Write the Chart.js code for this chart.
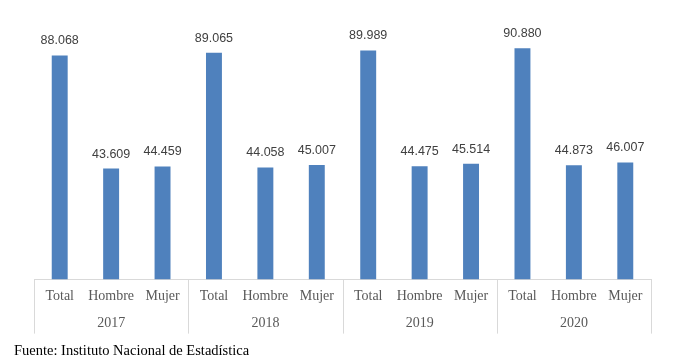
<!DOCTYPE html>
<html>
<head>
<meta charset="utf-8">
<script src="https://cdn.jsdelivr.net/npm/chart.js@4"></script>
<style>
  html, body { margin: 0; padding: 0; background: #fff; }
  #wrap { width: 675px; height: 360px; }
</style>
</head>
<body>
<div id="wrap"><canvas id="c" width="675" height="360"></canvas></div>
<script>
// ---- data ----
const years = ['2017', '2018', '2019', '2020'];
const groups = ['Total', 'Hombre', 'Mujer'];
const totalValues = [88068, 89065, 89989, 90880];
const hombreValues = [43609, 44058, 44475, 44873];
const mujerValues = [44459, 45007, 45514, 46007];
const sourceText = 'Fuente: Instituto Nacional de Estadística';

// build categories: each group label, year shown under the middle one
const labels = [];
const values = [];
years.forEach((y, i) => {
  const vals = [totalValues[i], hombreValues[i], mujerValues[i]];
  groups.forEach((g, j) => {
    labels.push([g, j === 1 ? y : '']);
    values.push(vals[j]);
  });
});

function fmt(v) {
  return String(v).replace(/\B(?=(\d{3})+(?!\d))/g, '.');
}

const valueLabels = {
  id: 'valueLabels',
  afterDatasetsDraw(chart) {
    const ctx = chart.ctx;
    const meta = chart.getDatasetMeta(0);
    ctx.save();
    ctx.font = '12.5px "Liberation Sans", Arial, sans-serif';
    ctx.fillStyle = '#404040';
    ctx.textAlign = 'center';
    ctx.textBaseline = 'alphabetic';
    meta.data.forEach((bar, i) => {
      ctx.fillText(fmt(chart.data.datasets[0].data[i]), bar.x, bar.y - 11);
    });
    ctx.restore();
  }
};

// group dividers on the category axis, at the boundaries between year groups
const groupDividers = {
  id: 'groupDividers',
  afterDraw(chart) {
    const xs = chart.scales.x;
    const ctx = chart.ctx;
    const n = chart.data.labels.length;
    const per = groups.length;
    const top = xs.top;
    const bottom = xs.top + 54;
    ctx.save();
    ctx.strokeStyle = '#d9d9d9';
    ctx.lineWidth = 1;
    for (let i = 0; i <= n; i += per) {
      let x;
      if (i === 0) x = xs.left;
      else if (i === n) x = xs.right;
      else x = (xs.getPixelForValue(i - 1) + xs.getPixelForValue(i)) / 2;
      x = Math.round(x) + 0.5;
      ctx.beginPath();
      ctx.moveTo(x, top);
      ctx.lineTo(x, bottom);
      ctx.stroke();
    }
    ctx.restore();
  }
};

new Chart(document.getElementById('c'), {
  type: 'bar',
  data: {
    labels: labels,
    datasets: [{
      data: values,
      backgroundColor: '#4F81BD',
      borderWidth: 0,
      categoryPercentage: 1,
      barPercentage: 0.31
    }]
  },
  options: {
    responsive: false,
    animation: false,
    devicePixelRatio: 1,
    layout: { padding: { left: 14, right: 24, top: 25, bottom: 0 } },
    plugins: {
      legend: { display: false },
      tooltip: { enabled: false },
      title: {
        display: true,
        text: sourceText,
        position: 'bottom',
        align: 'start',
        color: '#000',
        font: { family: '"Liberation Serif", "Times New Roman", serif', size: 14.5, weight: 'normal', lineHeight: 1.2 },
        padding: { top: 6, bottom: 0 }
      }
    },
    scales: {
      x: {
        offset: true,
        grid: { display: false, drawTicks: false },
        border: { display: true, color: '#d9d9d9', width: 1 },
        ticks: {
          color: '#595959',
          font: { family: '"Liberation Serif", "Times New Roman", serif', size: 14, lineHeight: 27 / 14 },
          padding: 3.5,
          maxRotation: 0,
          autoSkip: false
        },
        afterFit(scale) { scale.height = 57; }
      },
      y: {
        min: 0,
        max: 100000,
        display: true,
        grid: { display: false, drawTicks: false },
        border: { display: false },
        ticks: { display: false },
        afterFit(scale) { scale.width = 20; }
      }
    }
  },
  plugins: [valueLabels, groupDividers]
});
</script>
</body>
</html>
